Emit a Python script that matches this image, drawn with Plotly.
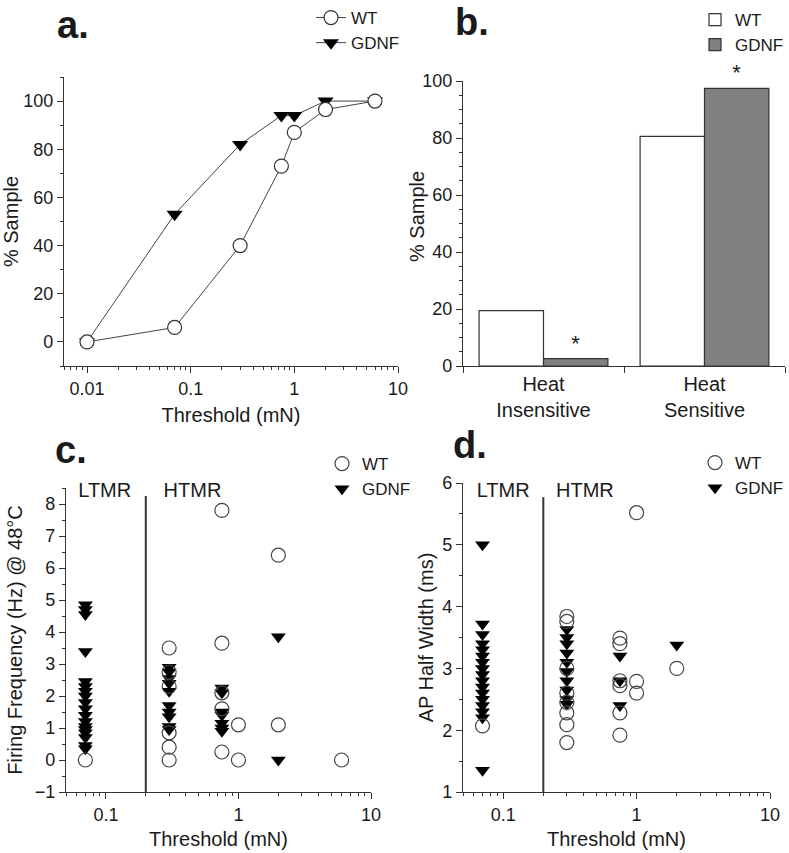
import math
import plotly.graph_objects as go

# ---------------- data ----------------
# panel a: cumulative % of sample vs mechanical threshold
thr_a_wt = [0.01, 0.07, 0.3, 0.75, 1, 2, 6]
pct_a_wt = [0, 6, 40, 73, 87, 96.5, 100]
thr_a_gdnf = [0.01, 0.07, 0.3, 0.75, 1, 2, 6]
pct_a_gdnf = [0, 53, 82, 94, 94, 100, 100]

# panel b: heat sensitivity
cats_b = ["Heat<br>Insensitive", "Heat<br>Sensitive"]
pct_b_wt = [19.4, 80.6]
pct_b_gdnf = [2.6, 97.4]
sig_b = ["*", "*"]

# panel c: firing frequency at 48C
thr_c_wt = [0.07, 0.3, 0.3, 0.3, 0.3, 0.3, 0.3, 0.75, 0.75, 0.75, 0.75, 0.75, 1, 1, 2, 2, 6]
freq_c_wt = [0, 3.5, 2.75, 2.3, 0.85, 0.4, 0, 7.8, 3.65, 2.1, 1.6, 0.25, 1.1, 0, 6.4, 1.1, 0]
thr_c_gdnf = ([0.07] * 18 + [0.3] * 10 + [0.75] * 7 + [2] * 2)
freq_c_gdnf = [4.85, 4.7, 4.55, 3.39, 2.45, 2.3, 2.15, 2.0, 1.8, 1.6, 1.4, 1.2, 1.05, 0.95, 0.85, 0.7, 0.45, 0.35,
               2.9, 2.75, 2.55, 2.4, 2.15, 1.7, 1.5, 1.35, 1.05, 0.95,
               2.25, 2.1, 1.5, 1.4, 1.15, 1.0, 0.9,
               3.85, 0]

# panel d: AP half width
thr_d_wt = [0.07, 0.3, 0.3, 0.3, 0.3, 0.3, 0.3, 0.3, 0.3, 0.75, 0.75, 0.75, 0.75, 0.75, 0.75, 1, 1, 1, 2]
apw_d_wt = [2.07, 3.84, 3.76, 3.0, 2.6, 2.45, 2.28, 2.09, 1.8, 3.49, 3.4, 2.8, 2.72, 2.28, 1.92, 5.52, 2.79, 2.6, 3.0]
thr_d_gdnf = [0.07] * 17 + [0.3] * 10 + [0.75] * 3 + [2]
apw_d_gdnf = [5.0, 3.72, 3.55, 3.4, 3.3, 3.2, 3.1, 3.0, 2.9, 2.8, 2.7, 2.6, 2.5, 2.4, 2.3, 2.2, 1.35,
              3.63, 3.5, 3.4, 3.25, 3.1, 2.95, 2.8, 2.65, 2.5, 2.42,
              3.2, 2.8, 2.4,
              3.38]

boundary_thr = 0.2
log_ticks = [0.01, 0.1, 1, 10]
log_ticktext = ["0.01", "0.1", "1", "10"]
log_minor_a = [m * 10.0 ** e for e in (-3, -2, -1, 0) for m in range(2, 10)]
log_minor_cd = [m * 10.0 ** e for e in (-2, -1, 0) for m in range(2, 10)]

# ---------------- style ----------------
FONT = "Liberation Sans, Arial, sans-serif"
TXT = "#1a1a1a"
AX = "#333333"
W, H = 789, 853


def px_x(a, b):
    return [a / W, b / W]


def px_y(top, bottom):
    return [1 - bottom / H, 1 - top / H]


fig = go.Figure()

# ---- panel a ----
fig.add_trace(go.Scatter(x=thr_a_gdnf, y=pct_a_gdnf, mode="lines+markers", name="GDNF",
                         line=dict(color="#444", width=1),
                         marker=dict(symbol="triangle-down", size=14, color="black"),
                         xaxis="x", yaxis="y", legend="legend", legendrank=2))
fig.add_trace(go.Scatter(x=thr_a_wt, y=pct_a_wt, mode="lines+markers", name="WT",
                         line=dict(color="#444", width=1),
                         marker=dict(symbol="circle", size=14, color="white", line=dict(color="#333", width=1.2)),
                         xaxis="x", yaxis="y", legend="legend", legendrank=1))

# ---- panel b ----
fig.add_trace(go.Bar(x=cats_b, y=pct_b_wt, name="WT", marker=dict(color="white", line=dict(color="#333", width=1.2)),
                     xaxis="x2", yaxis="y2", legend="legend2"))
fig.add_trace(go.Bar(x=cats_b, y=pct_b_gdnf, name="GDNF", marker=dict(color="#808080", line=dict(color="#333", width=1.2)),
                     text=sig_b, textposition="outside", textfont=dict(size=22, color=TXT, family=FONT),
                     cliponaxis=False,
                     xaxis="x2", yaxis="y2", legend="legend2"))

# ---- panels c and d ----
for xa, ya, lg, xs, ys_wt, xs_g, ys_g, ybot, ytop in [
    ("x3", "y3", "legend3", thr_c_wt, freq_c_wt, thr_c_gdnf, freq_c_gdnf, -1, 8.25),
    ("x4", "y4", "legend4", thr_d_wt, apw_d_wt, thr_d_gdnf, apw_d_gdnf, 1, 5.77),
]:
    fig.add_trace(go.Scatter(x=[boundary_thr, boundary_thr], y=[ybot, ytop], mode="lines",
                             line=dict(color="#333", width=2), showlegend=False, hoverinfo="skip",
                             xaxis=xa, yaxis=ya))
    fig.add_trace(go.Scatter(x=xs_g, y=ys_g, mode="markers", name="GDNF",
                             marker=dict(symbol="triangle-down", size=13, color="black"),
                             xaxis=xa, yaxis=ya, legend=lg, legendrank=2))
    fig.add_trace(go.Scatter(x=xs, y=ys_wt, mode="markers", name="WT",
                             marker=dict(symbol="circle-open", size=14, color="#444", line=dict(width=1.2)),
                             xaxis=xa, yaxis=ya, legend=lg, legendrank=1))

# region labels
fig.add_trace(go.Scatter(x=[0.098, 0.45], y=[8.39, 8.39], mode="text", text=["LTMR", "HTMR"],
                         textfont=dict(size=20, color=TXT, family=FONT), showlegend=False,
                         xaxis="x3", yaxis="y3", cliponaxis=False))
fig.add_trace(go.Scatter(x=[0.1, 0.41], y=[5.86, 5.86], mode="text", text=["LTMR", "HTMR"],
                         textfont=dict(size=20, color=TXT, family=FONT), showlegend=False,
                         xaxis="x4", yaxis="y4", cliponaxis=False))

# empty traces that register the overlay axes carrying the minor log ticks
for xa, ya in [("x5", "y"), ("x6", "y3"), ("x7", "y4")]:
    fig.add_trace(go.Scatter(x=[], y=[], mode="markers", showlegend=False, hoverinfo="skip",
                             xaxis=xa, yaxis=ya))

common_ax = dict(showline=True, linecolor=AX, linewidth=1.3, ticks="outside", tickcolor=AX, ticklen=6,
                 tickwidth=1.2, showgrid=False, zeroline=False, mirror=False,
                 tickfont=dict(size=18, color=TXT, family=FONT),
                 title_font=dict(size=20, color=TXT, family=FONT), automargin=False)


def minor_axis(base, anchor, rng, vals):
    return dict(overlaying=base, anchor=anchor, side="bottom", type="log", range=rng,
                tickmode="array", tickvals=vals, ticktext=[""] * len(vals), showticklabels=False,
                ticks="outside", ticklen=3, tickwidth=1, tickcolor=AX, showline=False,
                showgrid=False, zeroline=False, automargin=False, fixedrange=True)


rng_a = [math.log10(0.006), 1.0]
rng_cd = [math.log10(0.05), 1.0]

fig.update_layout(
    width=W, height=H, margin=dict(l=0, r=0, t=0, b=0),
    paper_bgcolor="white", plot_bgcolor="white",
    font=dict(family=FONT, color=TXT),
    barmode="group", bargap=0.2, bargroupgap=0,
    xaxis=dict(common_ax, type="log", domain=px_x(64, 398), range=rng_a,
               tickvals=log_ticks, ticktext=log_ticktext,
               title=dict(text="Threshold (mN)", standoff=10), anchor="y"),
    yaxis=dict(common_ax, domain=px_y(77, 366), range=[-10, 110], tickvals=[0, 20, 40, 60, 80, 100],
               minor=dict(ticks="outside", ticklen=3, tickcolor=AX, dtick=10, tick0=0),
               title=dict(text="% Sample", standoff=4), anchor="x"),
    xaxis2=dict(common_ax, type="category", domain=px_x(463, 785), range=[-0.5, 1.5], tickson="boundaries",
                tickfont=dict(size=20, color=TXT, family=FONT), anchor="y2"),
    yaxis2=dict(common_ax, domain=px_y(81, 366), range=[0, 100], tickvals=[0, 20, 40, 60, 80, 100],
                minor=dict(ticks="outside", ticklen=3, tickcolor=AX, dtick=5, tick0=0),
                title=dict(text=""), anchor="x2"),
    xaxis3=dict(common_ax, type="log", domain=px_x(66, 371), range=rng_cd,
                tickvals=log_ticks[1:], ticktext=log_ticktext[1:],
                title=dict(text="Threshold (mN)", standoff=8), anchor="y3"),
    yaxis3=dict(common_ax, domain=px_y(488, 792), range=[-1, 8.5], tickvals=list(range(-1, 9)),
                minor=dict(ticks="outside", ticklen=3, tickcolor=AX, dtick=0.5, tick0=0),
                title=dict(text="Firing Frequency (Hz) @ 48°C", standoff=6), anchor="x3"),
    xaxis4=dict(common_ax, type="log", domain=px_x(463, 770), range=rng_cd,
                tickvals=log_ticks[1:], ticktext=log_ticktext[1:],
                title=dict(text="Threshold (mN)", standoff=8), anchor="y4"),
    yaxis4=dict(common_ax, domain=px_y(483, 792), range=[1, 6], tickvals=[1, 2, 3, 4, 5, 6],
                minor=dict(ticks="outside", ticklen=3, tickcolor=AX, dtick=0.5, tick0=0),
                title=dict(text="AP Half Width (ms)", standoff=3), anchor="x4"),
    xaxis5=minor_axis("x", "y", rng_a, log_minor_a),
    xaxis6=minor_axis("x3", "y3", rng_cd, log_minor_cd),
    xaxis7=minor_axis("x4", "y4", rng_cd, log_minor_cd),
    legend=dict(x=311 / W, y=1 - 0 / H, xanchor="left", yanchor="top", bgcolor="rgba(0,0,0,0)",
                font=dict(size=17, color=TXT, family=FONT), traceorder="normal"),
    legend2=dict(x=1.0, y=1 - 2 / H, xanchor="right", yanchor="top", bgcolor="rgba(0,0,0,0)",
                 font=dict(size=17, color=TXT, family=FONT), traceorder="normal"),
    legend3=dict(x=322 / W, y=1 - 446 / H, xanchor="left", yanchor="top", bgcolor="rgba(0,0,0,0)",
                 font=dict(size=17, color=TXT, family=FONT), traceorder="normal"),
    legend4=dict(x=1.0, y=1 - 445 / H, xanchor="right", yanchor="top", bgcolor="rgba(0,0,0,0)",
                 font=dict(size=17, color=TXT, family=FONT), traceorder="normal"),
    annotations=[
        dict(text="<b>a.</b>", x=55 / W, y=1 - 25 / H, xref="paper", yref="paper", xanchor="left",
             yanchor="middle", showarrow=False, font=dict(size=38, color=TXT, family=FONT)),
        dict(text="<b>b.</b>", x=453 / W, y=1 - 22 / H, xref="paper", yref="paper", xanchor="left",
             yanchor="middle", showarrow=False, font=dict(size=38, color=TXT, family=FONT)),
        dict(text="<b>c.</b>", x=53 / W, y=1 - 450 / H, xref="paper", yref="paper", xanchor="left",
             yanchor="middle", showarrow=False, font=dict(size=38, color=TXT, family=FONT)),
        dict(text="<b>d.</b>", x=451 / W, y=1 - 445 / H, xref="paper", yref="paper", xanchor="left",
             yanchor="middle", showarrow=False, font=dict(size=38, color=TXT, family=FONT)),
        # y-axis title of panel b
        dict(text="% Sample", x=417 / W, y=1 - 217 / H, xref="paper", yref="paper", xanchor="center",
             yanchor="middle", textangle=-90, showarrow=False, font=dict(size=20, color=TXT, family=FONT)),
    ],
)

fig.write_html("out.html", post_script="document.body.style.margin='0';",
               config={"displayModeBar": False})
